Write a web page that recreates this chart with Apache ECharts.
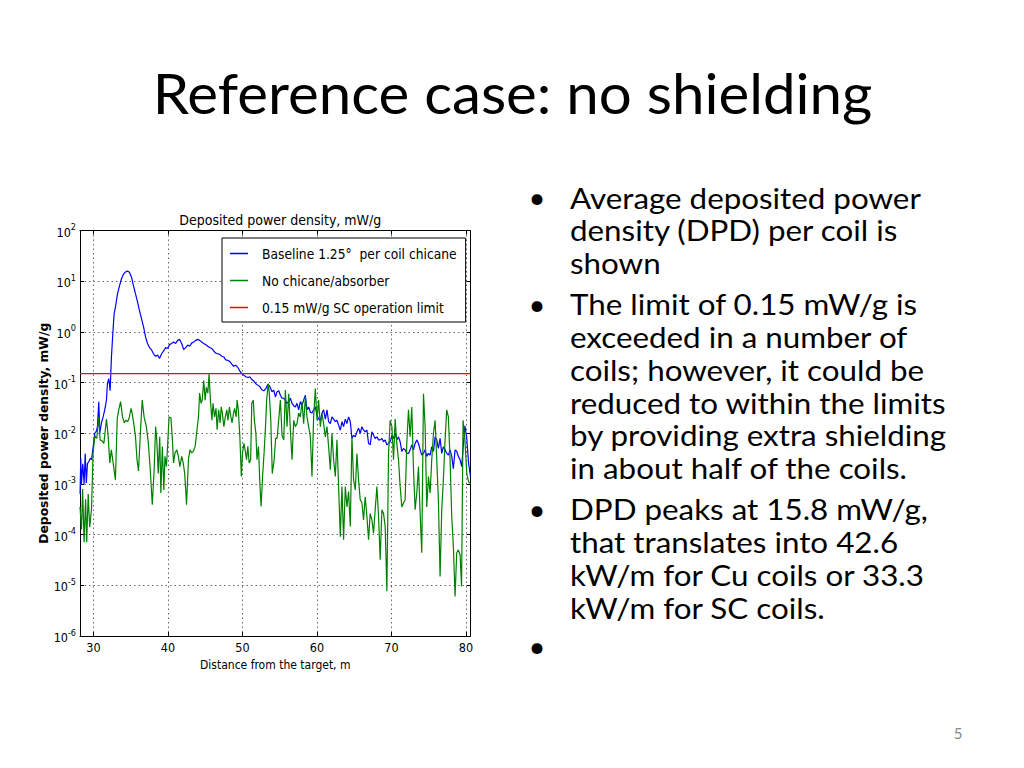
<!DOCTYPE html>
<html>
<head>
<meta charset="utf-8">
<script src="https://cdn.jsdelivr.net/npm/echarts@6/dist/echarts.min.js"></script>
<style>
html,body{margin:0;padding:0;background:#fff;}
#c{width:1024px;height:768px;}
</style>
</head>
<body>
<div id="c"></div>
<script>
// ---------- texts ----------
const slideTitle = 'Reference case: no shielding';
const chartTitle = 'Deposited power density, mW/g';
const xAxisName = 'Distance from the target, m';
const yAxisName = 'Deposited power density, mW/g';
const seriesNames = ['Baseline 1.25\u00B0  per coil chicane', 'No chicane/absorber', '0.15 mW/g SC operation limit'];
const bullet1 = ['Average deposited power', 'density (DPD) per coil is', 'shown'];
const bullet2 = ['The limit of 0.15 mW/g is', 'exceeded in a number of', 'coils; however, it could be', 'reduced to within the limits', 'by providing extra shielding', 'in about half of the coils.'];
const bullet3 = ['DPD peaks at 15.8 mW/g,', 'that translates into 42.6', 'kW/m for Cu coils or 33.3', 'kW/m for SC coils.'];
const bullet4 = [''];
const pageNumber = '5';

// ---------- axes ----------
const xRange = [28.2, 80.6];
const yRange = [1e-6, 100];
const limitValue = 0.15;

// ---------- Baseline 1.25 deg per coil chicane (blue) ----------
const blueX = [
 28.21,28.3,28.39,28.57,28.75,28.9,29.05,29.2,29.4,29.6,29.75,30.0,
 30.18,30.4,30.54,30.72,30.85,31.08,31.3,31.52,31.75,31.88,32.06,32.24,32.42,32.6,32.78,32.96,
 33.23,33.5,33.77,34.04,34.3,34.57,34.84,35.11,35.38,35.65,35.92,36.19,36.46,36.73,
 37.0,37.26,37.53,37.8,38.07,38.34,38.61,38.88,39.15,39.42,39.69,39.96,
 40.22,40.49,40.76,41.03,41.3,41.57,41.84,42.11,42.38,42.65,42.91,43.18,43.45,43.72,43.99,
 44.26,44.53,44.8,45.07,45.34,45.61,45.87,46.14,46.41,46.68,46.95,
 47.22,47.49,47.76,48.03,48.3,48.57,48.83,49.1,49.37,49.64,49.91,
 50.18,50.45,50.72,50.99,51.26,51.52,51.79,52.06,52.33,52.6,52.87,53.14,53.41,53.68,
 53.97,54.2,54.42,54.64,54.87,55.09,55.31,55.54,55.76,55.98,56.21,
 56.43,56.65,56.88,57.1,57.32,57.54,57.77,57.99,58.21,58.44,58.66,
 58.88,59.11,59.33,59.55,59.78,60.0,60.22,60.45,60.67,60.89,61.12,
 61.34,61.56,61.79,62.01,62.23,62.46,62.68,62.9,63.13,63.35,63.57,
 63.8,64.02,64.24,64.47,64.69,64.91,65.14,65.36,65.58,65.8,66.03,
 66.25,66.47,66.7,66.92,67.14,67.37,67.59,67.81,68.04,68.26,68.48,
 68.71,68.93,69.15,69.38,69.6,69.82,70.05,70.27,70.49,70.71,70.94,
 71.16,71.38,71.61,71.83,72.05,72.28,72.5,72.72,72.95,73.17,73.39,
 73.62,73.84,74.06,74.29,74.51,74.73,74.96,75.18,75.4,75.63,75.85,
 76.07,76.29,76.52,76.74,76.96,77.19,77.41,77.63,77.86,78.08,78.3,
 78.53,78.75,78.97,79.2,79.42,79.6,79.85,80.1,80.35,80.6
];
const blueY = [
 6.3e-4,3.2e-3,1.0e-3,2.5e-3,1.0e-3,4.0e-3,1.05e-3,2.5e-3,2.8e-3,3.2e-3,3.0e-3,5.9e-3,
 1.0e-2,1.1e-2,1.35e-2,4.2e-2,1.0e-2,1.6e-2,2.1e-2,2.9e-2,4.5e-2,9.5e-2,0.12,6.9e-2,0.32,0.91,2.3,3.1,
 5.6,8.1,11.2,13.8,15.2,15.8,15.0,12.0,8.1,5.6,3.9,2.6,1.8,1.26,
 0.79,0.59,0.49,0.44,0.37,0.33,0.35,0.30,0.37,0.42,0.49,0.47,
 0.56,0.59,0.63,0.59,0.68,0.71,0.59,0.45,0.49,0.55,0.52,0.60,0.63,0.68,0.71,
 0.68,0.63,0.59,0.56,0.52,0.49,0.47,0.42,0.38,0.37,0.36,
 0.33,0.32,0.28,0.275,0.26,0.23,0.21,0.22,0.20,0.17,0.15,
 0.14,0.13,0.126,0.13,0.115,0.107,0.095,0.089,0.083,0.072,0.069,0.076,0.093,0.083,
 0.066,0.071,0.052,0.066,0.069,0.056,0.049,0.049,0.045,0.039,0.042,
 0.049,0.039,0.035,0.033,0.039,0.029,0.042,0.035,0.045,0.056,0.029,
 0.033,0.026,0.025,0.029,0.033,0.023,0.019,0.018,0.025,0.029,0.019,
 0.029,0.017,0.0155,0.021,0.019,0.017,0.018,0.0145,0.0115,0.017,0.0135,
 0.019,0.0155,0.021,0.017,0.0079,0.0091,0.0085,0.0107,0.0126,0.010,0.0135,
 0.0115,0.0107,0.0115,0.0063,0.0059,0.0107,0.0091,0.0079,0.0085,0.0074,0.0074,
 0.0079,0.0068,0.0074,0.0059,0.0063,0.0068,0.0091,0.0079,0.010,0.0074,0.0085,
 0.0068,0.0044,0.0050,0.0047,0.0040,0.0040,0.0047,0.0059,0.0047,0.0063,0.0074,
 0.0063,0.0047,0.0037,0.0040,0.0047,0.0035,0.0040,0.0037,0.0054,0.0044,0.0085,
 0.0074,0.0050,0.0079,0.0040,0.0054,0.0047,0.0040,0.0037,0.0047,0.0035,0.0020,
 0.0047,0.0044,0.0035,0.0030,0.0022,0.0050,0.014,0.0079,0.0025,0.0014
];

// ---------- No chicane/absorber (green) ----------
const greenX = [
 28.2,28.4,28.55,28.75,28.95,29.1,29.3,29.5,29.75,29.95,
 30.2,30.45,30.7,30.9,31.15,31.4,31.75,31.95,32.2,32.4,32.65,32.95,
 33.2,33.4,33.65,33.9,34.15,34.35,34.6,34.8,35.05,35.2,35.4,35.65,35.85,
 36.05,36.3,36.55,36.8,37.1,37.35,37.6,37.9,38.15,38.35,38.5,38.7,38.9,
 39.05,39.25,39.45,39.6,39.8,39.95,40.15,40.4,40.6,40.75,40.95,
 41.2,41.4,41.6,41.85,42.05,42.25,42.5,42.75,42.95,43.2,43.4,43.65,43.85,
 44.1,44.25,44.45,44.6,44.8,45.0,45.15,45.35,45.52,45.7,45.9,46.05,46.25,46.45,
 46.6,46.8,47.0,47.15,47.3,47.5,47.7,47.9,48.05,48.25,48.45,48.6,48.8,48.95,
 49.15,49.28,49.45,49.65,49.85,50.0,50.2,50.35,50.55,50.72,50.9,51.1,
 51.25,51.45,51.6,51.8,51.95,52.15,52.35,52.5,52.7,52.9,53.05,53.25,53.45,53.6,53.8,
 54.0,54.25,54.45,54.64,54.87,55.09,55.31,55.54,55.76,55.98,56.21,56.43,56.65,
 56.88,57.1,57.32,57.54,57.77,57.99,58.21,58.44,58.66,58.88,59.11,59.33,
 59.55,59.78,60.0,60.22,60.45,60.67,60.89,61.12,61.34,61.56,61.79,
 62.01,62.23,62.46,62.68,62.9,63.13,63.35,63.57,63.8,64.02,64.24,64.47,
 64.69,64.91,65.14,65.36,65.58,65.8,66.03,66.25,66.47,66.7,66.92,
 67.14,67.37,67.59,67.81,68.04,68.26,68.48,68.71,68.93,69.15,69.38,
 69.6,69.82,70.05,70.27,70.49,70.71,70.94,71.16,71.38,71.61,71.83,
 72.05,72.28,72.5,72.72,72.95,73.17,73.39,73.62,73.84,74.06,
 74.29,74.51,74.73,74.96,75.18,75.4,75.63,75.85,76.07,76.29,76.52,
 76.74,76.96,77.19,77.41,77.63,77.86,78.08,78.3,78.53,78.75,78.97,
 79.2,79.4,79.6,79.85,80.1,80.35,80.6
];
const greenY = [
 3.5e-4,1.26e-4,7.9e-4,7.1e-5,5.0e-4,7.1e-5,6.3e-4,1.4e-4,3.2e-4,4.0e-3,
 8.9e-3,7.9e-3,0.021,7.4e-3,7.1e-3,6.3e-3,0.019,0.010,2.6e-3,4.7e-3,2.6e-3,1.2e-3,
 0.020,0.029,0.042,0.021,0.016,0.018,0.017,0.020,0.031,0.025,0.016,8.5e-3,3.0e-3,
 1.8e-3,0.010,0.045,0.021,0.0135,6.9e-3,2.2e-3,3.9e-4,1.9e-3,0.0135,7.4e-3,1.6e-3,8.5e-3,
 6.6e-4,5.5e-3,7.6e-4,3.5e-3,2.2e-3,5.5e-3,0.021,0.020,7.4e-3,2.6e-3,4.1e-3,
 4.7e-3,3.5e-3,2.2e-3,3.5e-3,2.6e-3,1.6e-3,3.9e-4,3.0e-3,4.7e-3,4.1e-3,4.4e-3,5.5e-3,0.010,
 0.021,0.062,0.039,0.045,0.11,0.045,0.081,0.062,0.148,0.045,0.018,0.039,0.021,0.031,
 0.0117,0.029,0.016,0.033,0.025,0.0135,0.021,0.029,0.018,0.033,0.021,0.016,0.025,0.031,
 0.021,0.045,0.029,8.5e-3,1.4e-3,4.1e-3,6.3e-3,4.7e-3,3.0e-3,5.5e-3,2.6e-3,3.0e-3,
 0.039,0.045,0.018,0.010,3.0e-3,5.5e-3,8.9e-4,3.6e-4,1.4e-3,4.1e-3,0.010,0.045,0.095,0.062,0.018,
 1.6e-3,3.0e-3,7.9e-3,7.9e-3,0.019,0.045,9.1e-3,7.4e-3,0.071,0.0135,0.060,0.0115,3.0e-3,
 0.018,0.0135,0.0155,0.025,0.021,0.042,0.0155,0.052,0.021,0.0135,8.5e-3,1.4e-3,
 0.021,0.076,0.018,0.045,0.0135,0.025,0.0155,8.5e-3,0.0135,5.4e-3,1.9e-3,
 0.010,3.0e-3,1.4e-3,7.4e-3,8.9e-4,9.1e-5,8.9e-4,7.9e-5,8.9e-4,3.5e-4,7.1e-4,1.45e-4,
 8.5e-3,1.2e-3,7.6e-4,4.0e-3,1.2e-3,4.9e-4,4.2e-4,1.95e-4,5.6e-4,2.3e-4,7.9e-5,
 2.6e-4,1.95e-4,1.07e-4,3.1e-4,8.9e-4,2.3e-4,3.2e-5,3.1e-4,2.6e-4,1.45e-4,7.6e-6,
 4.0e-3,0.018,0.0135,3.0e-3,0.019,6.3e-3,3.0e-3,8.9e-4,3.5e-4,4.2e-4,4.9e-4,
 6.3e-3,0.029,8.5e-3,0.033,1.9e-3,3.1e-4,6.6e-4,2.2e-3,2.6e-4,4.4e-5,
 0.060,0.0135,3.5e-4,1.4e-3,6.6e-4,3.0e-3,0.010,0.018,3.0e-3,4.9e-4,1.5e-5,
 3.1e-4,1.2e-3,7.4e-3,0.029,0.021,3.0e-3,2.3e-4,5.9e-5,6.0e-6,4.4e-5,5.0e-5,
 4.0e-5,9.5e-6,0.018,7.4e-3,1.6e-3,1.1e-3,1.0e-3
];

// ---------- rendering ----------
const CHART_FONT = "'DejaVu Sans Condensed', 'DejaVu Sans', sans-serif";
const SLIDE_FONT = "Lato, 'Open Sans', sans-serif";
function powLabel(v) {
  const e = Math.round(Math.log10(v));
  return '{b|10}{e|' + e + '}';
}
function xLabel(v) {
  const r = Math.round(v / 10) * 10;
  return Math.abs(v - r) < 1e-6 ? String(r) : '';
}

const chart = echarts.init(document.getElementById('c'), null, {renderer: 'svg', width: 1024, height: 768});

const TITLE_SIZE = 56, TITLE_SCALE = 1.04;
const BODY_SIZE = 29.3, BODY_SCALE = 1.07;
const MID_K = 0.36;
const graphics = [];
graphics.push({type: 'text', x: 512.5, y: 113 - MID_K * TITLE_SIZE, scaleX: TITLE_SCALE,
  style: {text: slideTitle, font: TITLE_SIZE + 'px ' + SLIDE_FONT, fill: '#000', textAlign: 'center', textVerticalAlign: 'middle'}});
const paragraphs = [bullet1, bullet2, bullet3, bullet4];
let base = 207.5;
paragraphs.forEach((lines, pi) => {
  if (pi > 0) base += 41 - 32.8;
  if (pi === 3) base -= 2;
  graphics.push({type: 'text', x: 537, y: base - MID_K * BODY_SIZE,
    style: {text: '\u2022', font: BODY_SIZE + 'px ' + SLIDE_FONT, fill: '#000', textAlign: 'center', textVerticalAlign: 'middle'}});
  lines.forEach((t, li) => {
    graphics.push({type: 'text', x: 570, y: base - MID_K * BODY_SIZE, scaleX: BODY_SCALE,
      style: {text: t, font: BODY_SIZE + 'px ' + SLIDE_FONT, fill: '#000', textAlign: 'left', textVerticalAlign: 'middle'}});
    base += 32.8;
  });
});
graphics.push({type: 'text', x: 958, y: 733,
  style: {text: pageNumber, font: '15px ' + SLIDE_FONT, fill: '#888', textAlign: 'center', textVerticalAlign: 'middle'}});

const axisLineStyle = {show: true, lineStyle: {color: '#000', width: 1}};
const tickStyle = {show: true, inside: true, length: 4, lineStyle: {color: '#000', width: 1}};
const gridLine = {show: true, lineStyle: {color: '#666', width: 1, type: [1.5, 3]}};

const option = {
  animation: false,
  backgroundColor: '#fff',
  title: {
    text: chartTitle, left: 275.3, top: 208, textAlign: 'center',
    textStyle: {fontFamily: CHART_FONT, fontSize: 14, fontWeight: 'normal', color: '#000'}
  },
  legend: {
    orient: 'vertical', left: 222, top: 238,
    backgroundColor: '#fff', borderColor: '#000', borderWidth: 1, borderRadius: 0,
    padding: [8, 9, 7, 8], itemGap: 12, itemWidth: 18, itemHeight: 1.5, icon: 'rect',
    textStyle: {fontFamily: CHART_FONT, fontSize: 13.7, color: '#000', lineHeight: 15, padding: [0, 0, 0, 9]},
    data: seriesNames
  },
  grid: {left: 80, top: 230.5, width: 390.5, height: 405.5, containLabel: false},
  xAxis: [{
    type: 'value', position: 'bottom', min: xRange[0], max: xRange[1], splitNumber: 5,
    axisLine: axisLineStyle, axisTick: tickStyle, splitLine: gridLine,
    axisLabel: {formatter: xLabel, color: '#000', fontFamily: CHART_FONT, fontSize: 12.5, margin: 5, showMinLabel: false, showMaxLabel: false},
    name: xAxisName, nameLocation: 'middle', nameGap: 20,
    nameTextStyle: {fontFamily: CHART_FONT, fontSize: 12, color: '#000'}
  }, {
    type: 'value', position: 'top', min: xRange[0], max: xRange[1], splitNumber: 5,
    axisLine: axisLineStyle, axisTick: tickStyle, splitLine: {show: false}, axisLabel: {show: false}
  }],
  yAxis: [{
    type: 'log', logBase: 10, position: 'left', min: yRange[0], max: yRange[1], splitNumber: 8,
    axisLine: axisLineStyle, axisTick: tickStyle, splitLine: gridLine,
    axisLabel: {
      formatter: powLabel, color: '#000', fontFamily: CHART_FONT, margin: 4,
      rich: {
        b: {fontFamily: CHART_FONT, fontSize: 12.5, color: '#000', lineHeight: 16, verticalAlign: 'bottom'},
        e: {fontFamily: CHART_FONT, fontSize: 9, color: '#000', lineHeight: 7, verticalAlign: 'top'}
      }
    },
    name: yAxisName, nameLocation: 'middle', nameGap: 29, nameRotate: 90,
    nameTextStyle: {fontFamily: "'DejaVu Sans', sans-serif", fontSize: 12.3, fontWeight: 'bold', color: '#000'}
  }, {
    type: 'log', logBase: 10, position: 'right', min: yRange[0], max: yRange[1], splitNumber: 8,
    axisLine: axisLineStyle, axisTick: tickStyle, splitLine: {show: false}, axisLabel: {show: false}
  }],
  series: [{
    name: seriesNames[0], type: 'line', xAxisIndex: 0, yAxisIndex: 0,
    data: blueX.map((x, i) => [x, blueY[i]]),
    showSymbol: false, symbol: 'none', lineStyle: {color: '#0000ff', width: 1.2}, itemStyle: {color: '#0000ff'}, z: 2
  }, {
    name: seriesNames[1], type: 'line', xAxisIndex: 0, yAxisIndex: 0,
    data: greenX.map((x, i) => [x, greenY[i]]),
    showSymbol: false, symbol: 'none', lineStyle: {color: '#008000', width: 1.2}, itemStyle: {color: '#008000'}, z: 3
  }, {
    name: seriesNames[2], type: 'line', xAxisIndex: 0, yAxisIndex: 0,
    data: [[xRange[0], limitValue], [xRange[1], limitValue]],
    showSymbol: false, symbol: 'none', lineStyle: {color: '#ff0000', width: 1.3}, itemStyle: {color: '#ff0000'}, z: 4
  }],
  graphic: graphics
};
chart.setOption(option);
</script>
</body>
</html>
